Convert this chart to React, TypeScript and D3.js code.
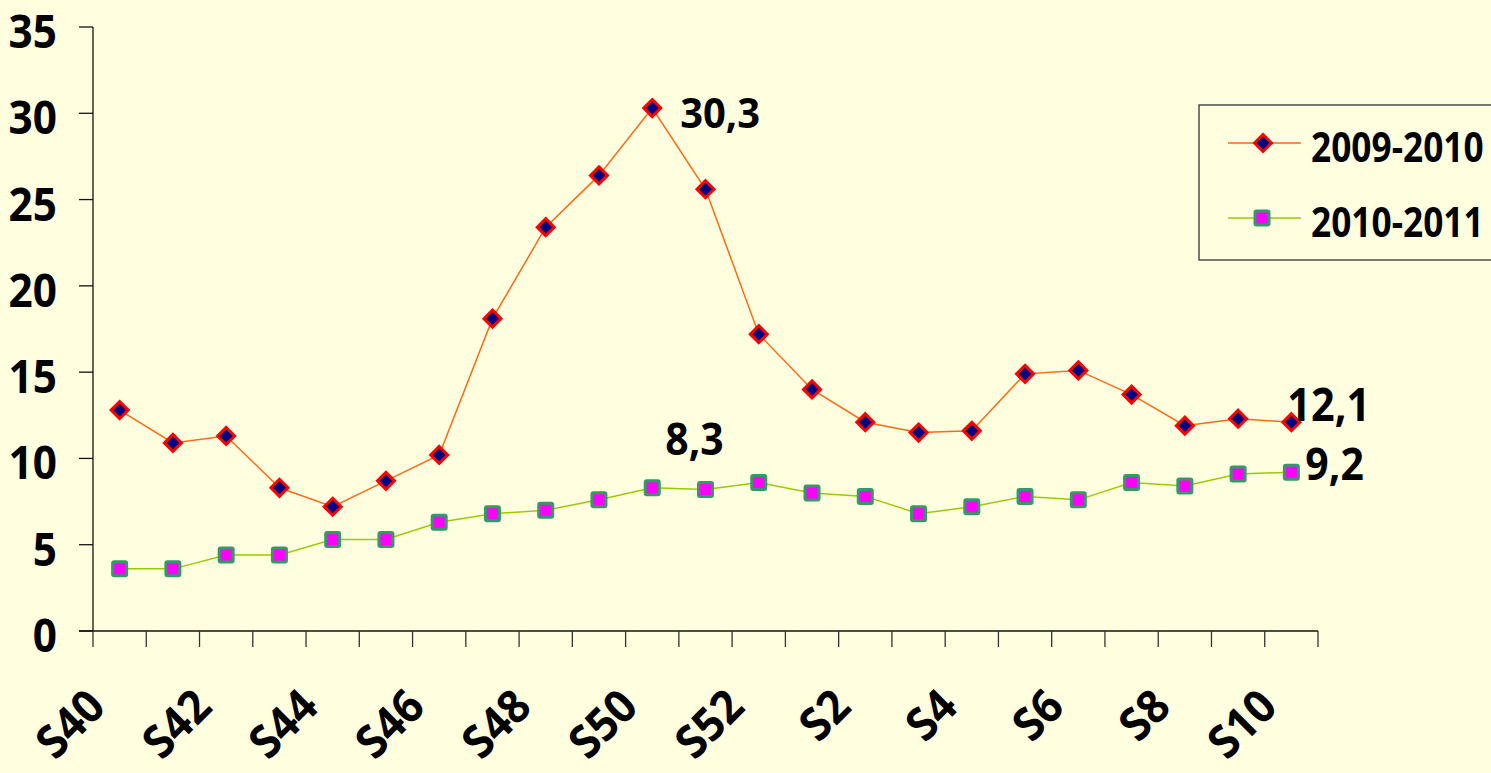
import React from "react";
import * as d3 from "d3";

const weeks = [
  "S40", "S41", "S42", "S43", "S44", "S45", "S46", "S47", "S48", "S49", "S50", "S51", "S52",
  "S1", "S2", "S3", "S4", "S5", "S6", "S7", "S8", "S9", "S10",
];
const season0910 = [12.8, 10.9, 11.3, 8.3, 7.2, 8.7, 10.2, 18.1, 23.4, 26.4, 30.3, 25.6, 17.2, 14.0, 12.1, 11.5, 11.6, 14.9, 15.1, 13.7, 11.9, 12.3, 12.1];
const season1011 = [3.6, 3.6, 4.4, 4.4, 5.3, 5.3, 6.3, 6.8, 7.0, 7.6, 8.3, 8.2, 8.6, 8.0, 7.8, 6.8, 7.2, 7.8, 7.6, 8.6, 8.4, 9.1, 9.2];
const seriesNames = ["2009-2010", "2010-2011"];
const yTicks = [0, 5, 10, 15, 20, 25, 30, 35];
const xLabels = weeks.filter((_, i) => i % 2 === 0);

const BG = "#FFFFE0";
const FONT = "'Open Sans', 'Noto Sans', sans-serif";
const LINE1 = "#FF6A13";
const LINE2 = "#99CC00";

function Diamond({ cx, cy, r = 8.5 }: { cx: number; cy: number; r?: number }) {
  return (
    <path
      d={`M${cx},${cy - r}L${cx + r},${cy}L${cx},${cy + r}L${cx - r},${cy}Z`}
      fill="#000080"
      stroke="#FF0000"
      strokeWidth={3}
    />
  );
}

function Square({ cx, cy, s = 7 }: { cx: number; cy: number; s?: number }) {
  return (
    <rect
      x={cx - s}
      y={cy - s}
      width={2 * s}
      height={2 * s}
      fill="#FF00FF"
      stroke="#339966"
      strokeWidth={3}
      rx={1.5}
    />
  );
}

function Label({ x, y, text, size = 44, sx = 0.93, anchor = "start", rotate = 0 }: any) {
  return (
    <text
      transform={`translate(${x},${y}) rotate(${rotate}) scale(${sx},1)`}
      textAnchor={anchor}
      fontFamily={FONT}
      fontWeight="bold"
      fontSize={size}
      fill="#000"
    >
      {text}
    </text>
  );
}

export default function App() {
  const W = 1491;
  const H = 773;
  const x = d3.scaleBand<string>().domain(weeks).range([93, 1318]).padding(0);
  const y = d3.scaleLinear().domain([0, 35]).range([631, 27]);
  const cx = (w: string) => (x(w) as number) + x.bandwidth() / 2;

  const line = d3
    .line<number>()
    .x((_, i) => cx(weeks[i]))
    .y((d) => y(d));

  const boundaries = d3.range(weeks.length + 1).map((i) => 93 + i * x.bandwidth());
  const last = weeks.length - 1;
  const peakIdx = season0910.indexOf(d3.max(season0910) as number);
  const peak2Idx = 10;

  return (
    <svg
      width={W}
      height={H}
      style={{ position: "absolute", left: 0, top: 0 }}
    >
      <rect x={0} y={0} width={W} height={H} fill={BG} />

      {/* Y axis */}
      <line x1={93} x2={93} y1={y(35)} y2={y(0)} stroke="#111" strokeWidth={1.3} />
      {yTicks.map((t) => (
        <g key={t}>
          <line x1={79} x2={93} y1={y(t)} y2={y(t)} stroke="#111" strokeWidth={1.3} />
          <Label x={57} y={y(t) + 21} text={String(t)} size={46} sx={0.92} anchor="end" />
        </g>
      ))}

      {/* X axis */}
      <line x1={79} x2={1318} y1={y(0)} y2={y(0)} stroke="#111" strokeWidth={1.3} />
      {boundaries.map((b, i) => (
        <line key={i} x1={b} x2={b} y1={y(0)} y2={y(0) + 16} stroke="#333" strokeWidth={1.3} />
      ))}
      {xLabels.map((w) => (
        <Label key={w} x={cx(w) - 12} y={709} text={w} size={46} sx={0.95} anchor="end" rotate={-45} />
      ))}

      {/* Lines */}
      <path d={line(season0910) || ""} fill="none" stroke={LINE1} strokeWidth={1.5} />
      <path d={line(season1011) || ""} fill="none" stroke={LINE2} strokeWidth={1.5} />

      {season1011.map((v, i) => (
        <Square key={"s" + i} cx={cx(weeks[i])} cy={y(v)} />
      ))}
      {season0910.map((v, i) => (
        <Diamond key={"d" + i} cx={cx(weeks[i])} cy={y(v)} />
      ))}

      {/* Data labels */}
      <Label
        x={cx(weeks[peakIdx]) + 28}
        y={y(season0910[peakIdx]) + 20}
        text={String(season0910[peakIdx]).replace(".", ",")}
        size={42}
        sx={0.95}
      />
      <Label
        x={cx(weeks[peak2Idx]) + 13}
        y={y(season1011[peak2Idx]) - 33}
        text={String(season1011[peak2Idx]).replace(".", ",")}
        size={44}
        sx={0.93}
      />
      <Label
        x={cx(weeks[last]) - 4}
        y={y(season0910[last]) - 1}
        text={String(season0910[last]).replace(".", ",")}
        size={46}
        sx={0.9}
      />
      <Label
        x={cx(weeks[last]) + 14}
        y={y(season1011[last]) + 8}
        text={String(season1011[last]).replace(".", ",")}
        size={44}
        sx={0.93}
      />

      {/* Legend */}
      <rect x={1199} y={105} width={320} height={155} fill={BG} stroke="#333" strokeWidth={1.3} />
      <line x1={1228} x2={1301} y1={143} y2={143} stroke={LINE1} strokeWidth={1.5} />
      <Diamond cx={1263} cy={143} />
      <Label x={1311} y={162} text={seriesNames[0]} size={42} sx={0.84} />
      <line x1={1228} x2={1301} y1={218} y2={218} stroke={LINE2} strokeWidth={1.5} />
      <Square cx={1262} cy={218} />
      <Label x={1311} y={237} text={seriesNames[1]} size={42} sx={0.84} />
    </svg>
  );
}
